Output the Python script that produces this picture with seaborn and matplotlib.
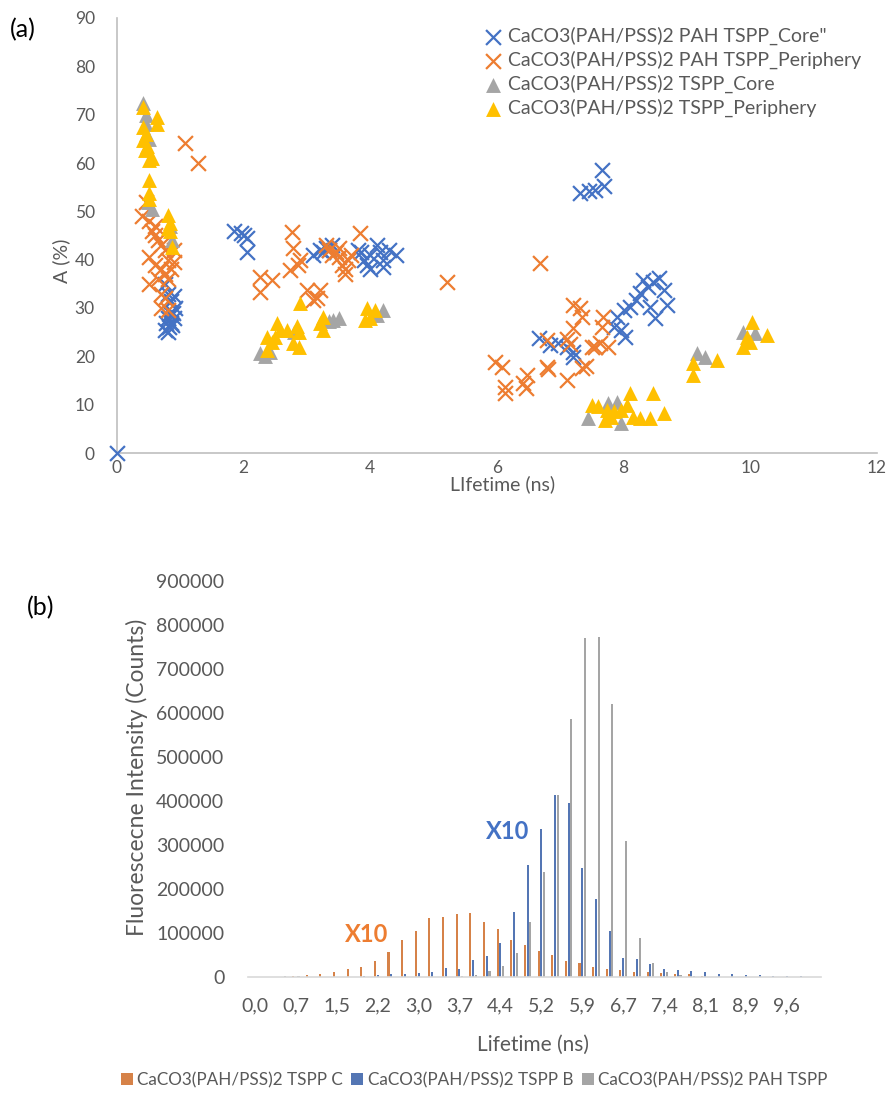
import numpy as np
import pandas as pd
import matplotlib
matplotlib.use("Agg")
import matplotlib.pyplot as plt
import seaborn as sns

sns.set_theme(style="white")
plt.rcParams['font.family'] = ['Lato', 'DejaVu Sans']

# ---------------- panel (a) data ----------------
core_pah_x = [0.0,
              0.75, 0.80, 0.85, 0.90, 0.88, 0.80, 0.78, 0.82, 0.76, 0.90, 0.85, 0.80, 0.92, 0.87, 0.83,
              1.85, 1.95, 2.00, 2.05, 2.05,
              3.10, 3.20, 3.30, 3.40, 3.25, 3.35,
              3.80, 3.90, 4.00, 4.00, 4.10, 4.20, 4.20, 4.30, 4.40, 3.95, 4.15, 3.85,
              7.31, 7.45, 7.55, 7.66, 7.69,
              6.66, 6.84, 6.97, 7.10, 7.20, 7.20, 7.84, 7.95, 8.02, 7.90, 8.00, 8.10, 8.20, 8.26,
              8.31, 8.39, 8.47, 8.55, 8.42, 8.50, 8.69, 8.63]
core_pah_y = [0.0,
              35.0, 33.0, 31.5, 32.5, 29.0, 28.0, 27.0, 26.0, 25.5, 28.0, 27.0, 25.0, 30.0, 26.5, 29.0,
              46.0, 45.5, 45.0, 44.5, 41.5,
              41.0, 42.0, 42.5, 43.0, 41.5, 42.0,
              42.0, 40.0, 38.0, 41.0, 43.0, 40.0, 38.5, 42.0, 41.0, 39.0, 41.5, 41.5,
              53.8, 54.3, 54.5, 58.6, 55.3,
              23.7, 22.4, 22.8, 22.0, 20.9, 19.9, 26.1, 25.5, 24.0, 28.2, 29.6, 30.2, 31.7, 33.1,
              35.8, 34.4, 35.4, 36.2, 30.2, 27.9, 30.6, 33.7]

peri_pah_x = [0.40, 0.50, 0.55, 0.60, 0.65, 0.70, 0.75, 0.50, 0.60, 0.70, 0.80, 0.85, 0.90, 0.65, 0.75,
              0.80, 0.50, 0.70, 0.75, 0.70, 0.80, 0.60, 0.45, 0.90,
              1.07, 1.28,
              2.26, 2.45, 2.26,
              2.76, 2.78, 2.73, 2.86, 2.89,
              3.00, 3.10, 3.20, 3.15,
              3.35, 3.40, 3.50, 3.55, 3.60, 3.65, 3.70, 3.84, 3.50, 3.30, 3.45, 3.60,
              5.21, 6.68,
              5.97, 6.08, 6.13, 6.13, 6.41, 6.47, 6.45, 6.79, 6.80, 6.79, 7.11, 7.20, 7.31, 7.34,
              7.20, 7.10, 7.15, 7.34, 7.40, 7.50, 7.63, 7.68, 7.66, 7.76, 7.55]
peri_pah_y = [49.0, 48.0, 46.0, 45.0, 44.0, 43.0, 42.0, 40.5, 39.0, 38.0, 40.0, 38.0, 39.5, 36.0, 37.0,
              36.0, 35.0, 33.0, 32.0, 30.0, 29.5, 47.0, 52.0, 42.0,
              64.2, 60.0,
              36.4, 35.8, 33.3,
              45.8, 42.4, 37.9, 38.9, 40.0,
              33.7, 31.7, 33.7, 32.0,
              42.0, 41.0, 40.5, 39.0, 38.0, 40.0, 41.0, 45.5, 42.5, 43.0, 41.5, 37.0,
              35.4, 39.3,
              18.8, 17.8, 13.7, 12.4, 14.5, 16.1, 13.5, 17.8, 17.3, 23.4, 15.1, 30.6, 30.0, 28.2,
              25.9, 23.5, 22.5, 17.6, 18.0, 22.0, 22.7, 28.2, 26.0, 22.0, 22.0]

core_x = [0.41, 0.45, 0.45, 0.50, 0.49, 0.55, 0.87, 0.83,
          2.26, 2.41, 2.33, 2.80,
          3.41, 3.50, 3.35,
          4.10, 4.20,
          7.44, 7.76, 7.90, 7.95,
          9.16, 9.29,
          9.89, 10.08]
core_y = [72.5, 70.0, 68.0, 65.0, 52.0, 50.5, 44.0, 47.0,
          20.7, 20.9, 20.0, 25.0,
          27.5, 28.0, 27.3,
          28.5, 29.5,
          7.2, 10.3, 10.5, 6.2,
          20.7, 19.9,
          25.0, 24.8]

peri_x = [0.41, 0.63, 0.41, 0.63, 0.41, 0.44, 0.50, 0.45, 0.47, 0.50, 0.50, 0.50, 0.55,
          0.81, 0.83, 0.81, 0.87, 0.84,
          2.37, 2.37, 2.53, 2.58, 2.68, 2.78, 2.87, 2.87, 2.89, 2.84, 2.50, 2.45,
          3.25, 3.25, 3.20,
          3.92, 4.00, 4.07, 3.95,
          7.50, 7.60, 7.74, 7.71, 7.85, 7.95, 8.10, 8.05, 8.14, 8.26, 8.42, 8.47, 8.63, 7.80,
          9.10, 9.10, 9.48,
          10.03, 9.95, 9.89, 10.00, 10.26]
peri_y = [71.6, 69.6, 67.5, 68.0, 64.8, 62.7, 60.7, 66.0, 63.5, 56.5, 53.8, 52.5, 61.0,
          49.3, 47.5, 46.5, 42.7, 46.0,
          21.3, 24.0, 26.9, 25.5, 25.5, 22.8, 22.0, 25.0, 31.0, 26.2, 24.0, 23.0,
          28.2, 25.5, 27.0,
          27.5, 28.0, 29.6, 30.0,
          10.0, 9.8, 9.0, 6.8, 8.6, 9.0, 12.4, 10.0, 7.5, 7.2, 7.2, 12.4, 8.3, 7.5,
          18.6, 16.2, 19.3,
          27.1, 24.0, 22.0, 23.0, 24.4]

scatter_labels = ['CaCO3(PAH/PSS)2 PAH TSPP_Core"',
                  'CaCO3(PAH/PSS)2 PAH TSPP_Periphery',
                  'CaCO3(PAH/PSS)2 TSPP_Core',
                  'CaCO3(PAH/PSS)2 TSPP_Periphery']

# ---------------- panel (b) data ----------------
lifetimes = [0.00, 0.25, 0.49, 0.74, 0.99, 1.23, 1.48, 1.73, 1.97, 2.22, 2.47, 2.71, 2.96, 3.21,
             3.45, 3.70, 3.95, 4.19, 4.44, 4.69, 4.93, 5.18, 5.43, 5.67, 5.92, 6.17, 6.41, 6.66,
             6.91, 7.15, 7.40, 7.65, 7.89, 8.14, 8.39, 8.63, 8.88, 9.13, 9.37, 9.62, 9.87, 10.11]
tspp_c = [0, 0, 500, 1500, 4500, 6000, 10600, 17400, 23500, 36400, 56000, 84000, 104500, 134000,
          135600, 142400, 146000, 125000, 108000, 84000, 72700, 59000, 50000, 37000, 32600, 23500,
          18900, 15500, 11400, 11400, 8300, 6100, 6800, 2000, 1000, 500, 0, 0, 0, 0, 0, 0]
tspp_b = [0, 0, 0, 0, 0, 0, 0, 500, 2000, 4500, 6000, 6800, 8300, 11400, 21200, 18900, 38600,
          47700, 77300, 147700, 254500, 336400, 413600, 396000, 248500, 176500, 104500, 44000,
          40000, 28800, 18900, 15200, 13600, 10600, 6100, 6800, 4500, 4000, 3000, 2500, 1500, 1000]
pah_tspp = [0, 0, 1500, 1500, 0, 0, 0, 0, 0, 0, 0, 0, 0, 0, 0, 1500, 4500, 13600, 25000, 53800,
            125000, 238000, 413600, 585700, 771000, 773000, 620000, 309000, 89400, 31800, 10600,
            4500, 2000, 1000, 500, 500, 0, 0, 0, 0, 0, 0]
bar_labels = ['CaCO3(PAH/PSS)2 TSPP C', 'CaCO3(PAH/PSS)2 TSPP B', 'CaCO3(PAH/PSS)2 PAH TSPP']

BLUE, ORANGE, GRAY, YELLOW = '#4472C4', '#ED7D31', '#A5A5A5', '#FFC000'
TXT = '#595959'
SPINE = '#BFBFBF'

fig = plt.figure(figsize=(8.9, 10.93), dpi=100)

# ---------------- panel (a) ----------------
ax1 = fig.add_axes([117/890, 1-453/1093, (877-117)/890, (453-18)/1093])
sns.scatterplot(x=core_pah_x, y=core_pah_y, marker='x', color=BLUE, s=115, linewidth=1.6,
                ax=ax1, label=scatter_labels[0], zorder=3, clip_on=False)
sns.scatterplot(x=peri_pah_x, y=peri_pah_y, marker='x', color=ORANGE, s=115, linewidth=1.6,
                ax=ax1, label=scatter_labels[1], zorder=4)
sns.scatterplot(x=core_x, y=core_y, marker='^', color=GRAY, s=115, linewidth=0,
                ax=ax1, label=scatter_labels[2], zorder=5)
sns.scatterplot(x=peri_x, y=peri_y, marker='^', color=YELLOW, s=115, linewidth=0,
                ax=ax1, label=scatter_labels[3], zorder=6)
ax1.set_xlim(0, 12)
ax1.set_ylim(0, 90)
ax1.set_xticks(range(0, 13, 2))
ax1.set_yticks(range(0, 91, 10))
ax1.tick_params(axis='both', length=0, labelsize=12.5, labelcolor=TXT)
ax1.tick_params(axis='y', pad=16)
ax1.tick_params(axis='x', pad=5)
for sp in ['top', 'right']:
    ax1.spines[sp].set_visible(False)
for sp in ['left', 'bottom']:
    ax1.spines[sp].set_color(SPINE)
    ax1.spines[sp].set_linewidth(1.2)
ax1.set_xlabel('LIfetime (ns)', fontsize=14, color=TXT)
ax1.xaxis.set_label_coords((503-117)/760, -(475-453)/435)
ax1.set_ylabel('A (%)', fontsize=14, color=TXT)
ax1.yaxis.set_label_coords(-(117-70)/760, (453-261)/435)
leg1 = ax1.legend(loc='upper left', bbox_to_anchor=((475-117)/760, 0.998), frameon=False,
                  fontsize=14, labelcolor=TXT, handlelength=1.0, handletextpad=0.3,
                  labelspacing=0.3, borderaxespad=0.0, markerscale=1.0)

# ---------------- panel (b) ----------------
ax2 = fig.add_axes([248/890, 1-977/1093, (821-248)/890, (977-581)/1093])
cats = [f"{v:.2f}" for v in lifetimes]
df = pd.DataFrame({
    'lifetime': cats * 3,
    'value': tspp_c + tspp_b + pah_tspp,
    'series': [bar_labels[0]] * len(cats) + [bar_labels[1]] * len(cats) + [bar_labels[2]] * len(cats),
})
sns.barplot(data=df, x='lifetime', y='value', hue='series', order=cats, hue_order=bar_labels,
            palette=[ORANGE, BLUE, GRAY], width=0.6, gap=0.25, linewidth=0, ax=ax2,
            errorbar=None, legend=True)
ax2.set_ylim(0, 900000)
ax2.set_yticks(range(0, 900001, 100000))
ax2.set_yticklabels([str(v) for v in range(0, 900001, 100000)])
ticks = list(range(0, len(cats), 3))
ax2.set_xticks(ticks)
ax2.set_xticklabels([f"{lifetimes[i]:.1f}".replace('.', ',') for i in ticks])
ax2.set_xlim(-0.5, len(cats) - 0.5)
ax2.tick_params(axis='both', length=0, labelsize=14, labelcolor=TXT)
ax2.tick_params(axis='y', pad=17)
ax2.tick_params(axis='x', pad=15)
for sp in ['top', 'right', 'left']:
    ax2.spines[sp].set_visible(False)
ax2.spines['bottom'].set_color('#D9D9D9')
ax2.spines['bottom'].set_linewidth(1.2)
ax2.set_xlabel('Lifetime (ns)', fontsize=15, color=TXT)
ax2.xaxis.set_label_coords((533-248)/573, -(1035-977)/396)
ax2.set_ylabel('Fluorescecne Intensity (Counts)', fontsize=16.5, color=TXT)
ax2.yaxis.set_label_coords(-(248-148)/573, (977-777)/396)
ax2.text(8.2, 97000, 'X10', color=ORANGE, fontsize=17, fontweight='bold', ha='center', va='center')
ax2.text(18.5, 330000, 'X10', color=BLUE, fontsize=17, fontweight='bold', ha='center', va='center')
handles, labels = ax2.get_legend_handles_labels()
ax2.get_legend().remove()
fig.legend(handles, labels, loc='center', bbox_to_anchor=(474/890, 1-1080/1093), ncol=3,
           frameon=False, fontsize=12.3, labelcolor=TXT, handlelength=0.7, handleheight=0.7,
           handletextpad=0.25, columnspacing=0.5)

fig.text(10/890, 1-30/1093, '(a)', fontsize=18, color='black', va='center', ha='left')
fig.text(27/890, 1-608/1093, '(b)', fontsize=18, color='black', va='center', ha='left')

fig.savefig('out.png', dpi=100)
